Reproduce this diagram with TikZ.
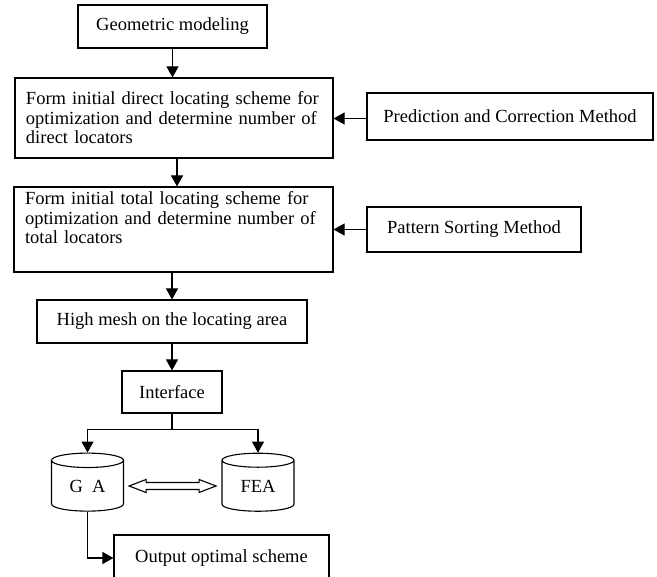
\documentclass[tikz,border=0pt]{standalone}
\usepackage{fontspec}
\setmainfont{Liberation Serif}
\usetikzlibrary{arrows.meta,shapes.geometric,calc}

\begin{document}
\begin{tikzpicture}[x=1pt,y=-1pt,
	box/.style={draw,line width=1.1pt,inner sep=0pt,font=\fontsize{18.5}{19.5}\selectfont},
	tank/.style={cylinder,shape border rotate=90,draw,line width=1.1pt,aspect=0.4,
		minimum width=72pt,minimum height=58pt,inner sep=0pt,font=\fontsize{18.5}{19.5}\selectfont},
	arr/.style={line width=1.1pt,-{Triangle[length=11pt,width=12pt]}}]
	\useasboundingbox (0,0) rectangle (657,577);

	% main column
	\node[box,minimum width=189pt,minimum height=43pt] (geo) at (172.5,26.5) {Geometric modeling};
	\node[box,text width=296pt,align=left,inner xsep=11pt,minimum height=80pt] (direct) at (174,118)
		{Form initial direct locating scheme for\\optimization and determine number of\\direct locators};
	\node[box,text width=297pt,align=left,inner xsep=11pt,minimum height=85pt] (total) at (173.5,229.5)
		{Form initial total locating scheme for\\optimization and determine number of\\total locators\rule[-24pt]{0pt}{24pt}};
	\node[box,minimum width=270pt,minimum height=43pt] (mesh) at (172,321.5) {High mesh on the locating area};
	\node[box,minimum width=100pt,minimum height=42pt] (intf) at (172,392) {Interface};
	\node[tank] (ga) at (87.5,486) {G\ \ A};
	\node[tank] (fea) at (258,486) {FEA};
	\node[box,minimum width=215pt,minimum height=46pt] (out) at (221.5,558) {Output optimal scheme};

	% side methods
	\node[box,minimum width=286pt,minimum height=47pt] (pcm) at (510,116.5) {Prediction and Correction Method};
	\node[box,minimum width=214pt,minimum height=45pt] (psm) at (474,229.5) {Pattern Sorting Method};

	\draw[arr] (geo.south) -- (geo.south |- direct.north);
	\draw[arr] ([xshift=3pt]direct.south) -- ([xshift=3pt]direct.south |- total.north);
	\draw[arr] ([xshift=-1.5pt]total.south) -- ([xshift=-1.5pt]total.south |- mesh.north);
	\draw[arr] (mesh.south) -- (intf.north);
	\draw[arr] ([yshift=-2pt]pcm.west) -- ([yshift=-2pt]pcm.west -| direct.east);
	\draw[arr] (psm.west) -- (psm.west -| total.east);

	\draw[line width=1.1pt] (intf.south) -- ++(0,16) coordinate (split);
	\draw[arr] (split) -| (ga.north);
	\draw[arr] (split) -| (fea.north);
	\draw[arr] (ga.south) |- (out.west);

	% exchange between GA and FEA
	\coordinate (dl) at ($(ga.east)+(5,0)$);
	\draw[line width=1.1pt,line join=miter] (dl) -- ++(17,-6.5) -- ++(0,3) -- ++(53,0) -- ++(0,-3)
		-- ++(17,6.5) -- ++(-17,6.5) -- ++(0,-3) -- ++(-53,0) -- ++(0,3) -- cycle;
\end{tikzpicture}
\end{document}
